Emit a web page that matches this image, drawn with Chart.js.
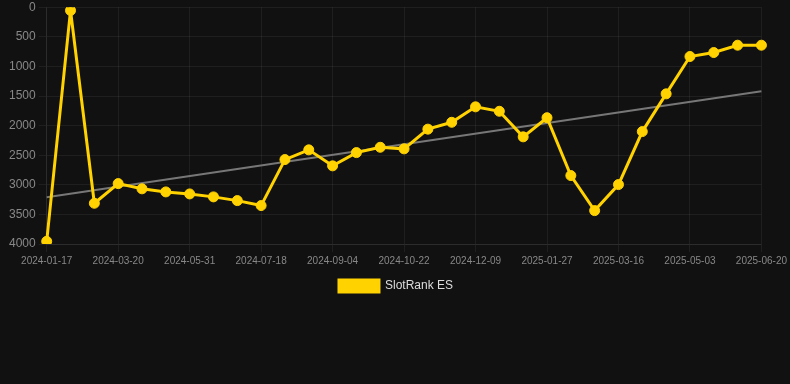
<!DOCTYPE html>
<html>
<head>
<meta charset="utf-8">
<script src="https://cdn.jsdelivr.net/npm/chart.js@4.4.1/dist/chart.umd.min.js"></script>
<style>
  html, body { margin: 0; padding: 0; background: #111111; overflow: hidden; }
  #wrap { width: 790px; height: 305px; margin-top: -3px; }
</style>
</head>
<body>
<div id="wrap"><canvas id="chart"></canvas></div>
<script>
const dates = [
  '2024-01-17', '2024-02-07', '2024-02-28', '2024-03-20', '2024-04-13', '2024-05-07',
  '2024-05-31', '2024-06-16', '2024-07-02', '2024-07-18', '2024-08-03', '2024-08-19',
  '2024-09-04', '2024-09-20', '2024-10-06', '2024-10-22', '2024-11-07', '2024-11-23',
  '2024-12-09', '2024-12-25', '2025-01-11', '2025-01-27', '2025-02-12', '2025-02-28',
  '2025-03-16', '2025-04-01', '2025-04-17', '2025-05-03', '2025-05-19', '2025-06-04',
  '2025-06-20'
];

const rank = [
  3955, 55, 3312, 2980, 3068, 3120, 3154, 3204, 3267, 3351, 2574,
  2410, 2680, 2456, 2366, 2393, 2060, 1944, 1683, 1758, 2190,
  1867, 2844, 3436, 2996, 2101, 1464, 833, 766, 642, 642
];

// trend line, read at both ends
const trendStart = 3210;
const trendEnd = 1420;

const yTicks = [0, 500, 1000, 1500, 2000, 2500, 3000, 3500, 4000];

Chart.defaults.font.family = 'Arial, "Liberation Sans", sans-serif';

new Chart(document.getElementById('chart'), {
  type: 'line',
  data: {
    labels: dates,
    datasets: [
      {
        label: 'SlotRank ES',
        data: rank,
        borderColor: '#ffd200',
        backgroundColor: '#ffd200',
        borderWidth: 3,
        pointRadius: 5,
        pointHoverRadius: 5,
        pointBorderWidth: 1,
        tension: 0,
      },
      {
        label: 'trend',
        data: [{ x: dates[0], y: trendStart }, { x: dates[dates.length - 1], y: trendEnd }],
        borderColor: '#777777',
        borderWidth: 2,
        pointRadius: 0,
        fill: false,
      }
    ]
  },
  options: {
    responsive: true,
    maintainAspectRatio: false,
    animation: false,
    layout: {
      padding: { left: 6, right: 4, top: 0, bottom: 0 }
    },
    plugins: {
      legend: {
        position: 'bottom',
        labels: {
          color: '#dddddd',
          font: { size: 12 },
          boxWidth: 40,
          boxHeight: 12,
          filter: (item) => item.text !== 'trend',
        },
      },
      tooltip: { enabled: false },
    },
    scales: {
      x: {
        grid: {
          color: 'rgba(255,255,255,0.06)',
        },
        border: { color: 'rgba(255,255,255,0.06)' },
        ticks: {
          color: '#888888',
          font: { size: 10 },
          autoSkip: false,
          maxRotation: 0,
          callback: function (val, idx) {
            return idx % 3 === 0 ? dates[idx] : null;
          },
        },
      },
      y: {
        reverse: true,
        min: 0,
        max: 4000,
        afterBuildTicks: (axis) => {
          axis.ticks = yTicks.map(v => ({ value: v }));
        },
        grid: {
          color: 'rgba(255,255,255,0.06)',
        },
        border: { color: 'rgba(255,255,255,0.06)' },
        ticks: {
          color: '#888888',
          font: { size: 12 },
          callback: (v) => String(v),
        },
      }
    }
  }
});
</script>
</body>
</html>
